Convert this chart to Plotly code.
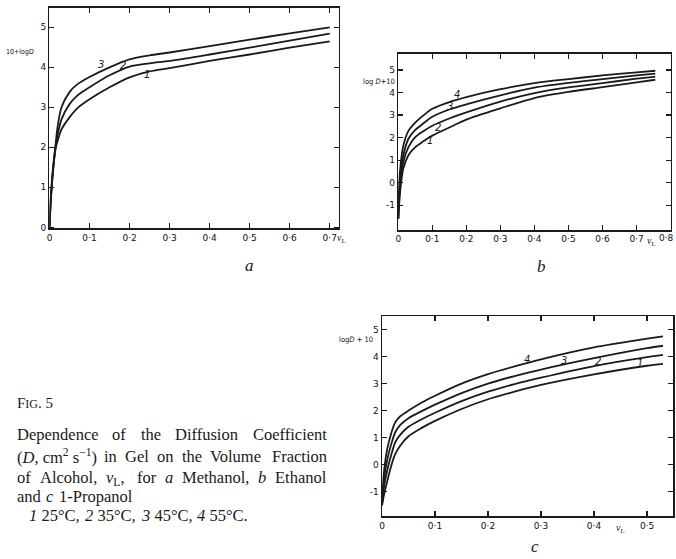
import plotly.graph_objects as go

W, H = 676, 559

# ---------------- data ----------------
# panel a (Methanol): curves 1,2,3
xa = [0, 0.003, 0.008, 0.015, 0.02, 0.03, 0.05, 0.07, 0.1, 0.15, 0.2, 0.25, 0.3, 0.4, 0.5, 0.6, 0.7]
a3 = [0, 0.7, 1.4, 2.05, 2.5, 3.0, 3.38, 3.58, 3.76, 4.0, 4.2, 4.3, 4.37, 4.53, 4.69, 4.85, 5.0]
a2 = [0, 0.65, 1.35, 2.0, 2.3, 2.7, 3.08, 3.3, 3.5, 3.8, 4.02, 4.1, 4.16, 4.32, 4.49, 4.67, 4.84]
a1 = [0, 0.6, 1.3, 1.95, 2.15, 2.45, 2.75, 2.98, 3.2, 3.5, 3.75, 3.9, 3.98, 4.16, 4.32, 4.49, 4.65]

# panel b (Ethanol): curves 1..4
xb = [0, 0.003, 0.007, 0.015, 0.03, 0.05, 0.075, 0.1, 0.15, 0.2, 0.3, 0.4, 0.5, 0.6, 0.7, 0.755]
b4 = [-1.6, 0.0, 0.8, 1.65, 2.3, 2.67, 3.0, 3.28, 3.58, 3.8, 4.15, 4.42, 4.6, 4.76, 4.9, 4.97]
b3 = [-1.6, -0.3, 0.45, 1.22, 1.95, 2.34, 2.65, 2.93, 3.25, 3.48, 3.88, 4.22, 4.43, 4.6, 4.76, 4.84]
b2 = [-1.6, -0.6, 0.1, 0.93, 1.58, 2.02, 2.3, 2.53, 2.85, 3.12, 3.6, 3.98, 4.23, 4.42, 4.62, 4.71]
b1 = [-1.6, -0.9, -0.2, 0.64, 1.22, 1.58, 1.85, 2.09, 2.45, 2.8, 3.3, 3.76, 4.03, 4.24, 4.45, 4.57]

# panel c (1-Propanol): curves 1..4
xc = [0, 0.004, 0.01, 0.018, 0.025, 0.035, 0.05, 0.075, 0.1, 0.15, 0.2, 0.25, 0.3, 0.4, 0.5, 0.53]
c4 = [-1.5, -0.2, 0.6, 1.2, 1.57, 1.8, 2.0, 2.3, 2.55, 3.0, 3.35, 3.64, 3.9, 4.34, 4.66, 4.75]
c3 = [-1.5, -0.5, 0.2, 0.8, 1.2, 1.48, 1.72, 1.98, 2.22, 2.65, 3.0, 3.28, 3.52, 3.94, 4.31, 4.4]
c2 = [-1.5, -0.8, -0.2, 0.4, 0.83, 1.12, 1.4, 1.68, 1.92, 2.35, 2.7, 2.98, 3.22, 3.65, 3.98, 4.06]
c1 = [-1.5, -1.1, -0.6, 0.0, 0.4, 0.72, 1.05, 1.36, 1.62, 2.06, 2.42, 2.7, 2.95, 3.34, 3.66, 3.73]

xt_a = [0, 0.1, 0.2, 0.3, 0.4, 0.5, 0.6, 0.7]
xt_a_lbl = ["0", "0·1", "0·2", "0·3", "0·4", "0·5", "0·6", "0·7"]
xt_b = [0, 0.1, 0.2, 0.3, 0.4, 0.5, 0.6, 0.7, 0.8]
xt_b_lbl = ["0", "0·1", "0·2", "0·3", "0·4", "0·5", "0·6", "0·7", ""]
xt_b_last = "0·8"
xt_c = [0, 0.1, 0.2, 0.3, 0.4, 0.5]
xt_c_lbl = ["0", "0·1", "0·2", "0·3", "0·4", "0·5"]
yt_a = [0, 1, 2, 3, 4, 5]
yt_bc = [-1, 0, 1, 2, 3, 4, 5]

# curve-number labels (number, x, y) in data units (label centres)
lab_a = [("3", 0.129, 4.07), ("2", 0.183, 4.05), ("1", 0.244, 3.82)]
lab_b = [("4", 0.172, 3.92), ("3", 0.153, 3.40), ("2", 0.116, 2.45), ("1", 0.094, 1.86)]
lab_c = [("4", 0.274, 3.89), ("3", 0.343, 3.87), ("2", 0.407, 3.83), ("1", 0.487, 3.74)]

# ---------------- figure ----------------
def px(x):
    return x / W

def py(y):
    return 1 - y / H

LINE = dict(color="#1a1a1a", width=1.8, shape="spline", smoothing=0.8)
fig = go.Figure()

for xs, ys_list, ax in [(xa, [a1, a2, a3], ("x", "y")),
                        (xb, [b1, b2, b3, b4], ("x2", "y2")),
                        (xc, [c1, c2, c3, c4], ("x3", "y3"))]:
    for ys in ys_list:
        fig.add_trace(go.Scatter(x=xs, y=ys, mode="lines", line=LINE,
                                 xaxis=ax[0], yaxis=ax[1], showlegend=False,
                                 hoverinfo="skip", cliponaxis=False))

TICKF = dict(family="DejaVu Sans", size=9, color="#111111")
common = dict(showline=True, linecolor="#1a1a1a", linewidth=1.5, mirror="ticks",
              ticks="inside", ticklen=5, tickwidth=1.3, tickcolor="#1a1a1a",
              showgrid=False, zeroline=False, tickfont=TICKF, fixedrange=True)

fig.update_layout(
    width=W, height=H, margin=dict(l=0, r=0, t=0, b=0),
    paper_bgcolor="white", plot_bgcolor="white", showlegend=False,
    xaxis=dict(domain=[px(46.7), px(337)], range=[0, 0.722], anchor="y",
               tickvals=xt_a, ticktext=xt_a_lbl, **common),
    yaxis=dict(domain=[py(230), py(8)], range=[-0.025, 5.484], anchor="x",
               tickvals=yt_a, ticktext=[str(v) for v in yt_a], **common),
    xaxis2=dict(domain=[px(397), px(670.6)], range=[0, 0.8], anchor="y2",
                tickvals=xt_b, ticktext=xt_b_lbl, **common),
    yaxis2=dict(domain=[py(231.7), py(54)], range=[-2.1, 5.73], anchor="x2",
                tickvals=yt_bc, ticktext=[str(v) for v in yt_bc], **common),
    xaxis3=dict(domain=[px(380.7), px(673)], range=[0, 0.549], anchor="y3",
                tickvals=xt_c, ticktext=xt_c_lbl, **common),
    yaxis3=dict(domain=[py(520), py(318.3)], range=[-1.91, 5.5], anchor="x3",
                tickvals=yt_bc, ticktext=[str(v) for v in yt_bc], **common),
)

ann = []
NUMF = dict(family="DejaVu Sans", size=10, color="#1a1a1a")
for labs, xr, yr in [(lab_a, "x", "y"), (lab_b, "x2", "y2"), (lab_c, "x3", "y3")]:
    for t, x, y in labs:
        ann.append(dict(text="<i>" + t + "</i>", x=x, y=y, xref=xr, yref=yr,
                        showarrow=False, font=NUMF, xanchor="center", yanchor="middle"))

# last tick label of panel b, kept inside the page
ann.append(dict(text=xt_b_last, x=px(675), y=py(240), xref="paper", yref="paper",
                showarrow=False, font=TICKF, xanchor="right", yanchor="middle", borderpad=0))

SMALL = dict(family="DejaVu Sans Condensed, DejaVu Sans", size=7.5, color="#111111")
VL = dict(family="Liberation Serif", size=10, color="#1a1a1a")
# axis titles
ann += [
    dict(text="10+logD", x=px(33), y=py(52), xref="paper", yref="paper", showarrow=False,
         font=dict(SMALL, size=7), xanchor="right", yanchor="middle"),
    dict(text="log <i>D</i>+10", x=px(396), y=py(82), xref="paper", yref="paper", showarrow=False,
         font=SMALL, xanchor="right", yanchor="middle"),
    dict(text="log<i>D</i> + 10", x=px(374), y=py(342), xref="paper", yref="paper", showarrow=False,
         font=SMALL, xanchor="right", yanchor="middle"),
    dict(text="<i>v</i><sub>L</sub>", x=px(340), y=py(240), xref="paper", yref="paper", showarrow=False,
         font=VL, xanchor="center", yanchor="middle"),
    dict(text="<i>v</i><sub>L</sub>", x=px(651), y=py(243), xref="paper", yref="paper", showarrow=False,
         font=VL, xanchor="center", yanchor="middle"),
    dict(text="<i>v</i><sub>L</sub>", x=px(620), y=py(532), xref="paper", yref="paper", showarrow=False,
         font=VL, xanchor="center", yanchor="middle"),
]

# panel letters
for t, x, y in [("a", 248, 267), ("b", 541, 268), ("c", 534, 550)]:
    ann.append(dict(text="<i>" + t + "</i>", x=px(x), y=py(y), xref="paper", yref="paper",
                    showarrow=False, font=dict(family="Liberation Serif", size=17, color="#1a1a1a"),
                    xanchor="center", yanchor="middle"))

# caption
ann.append(dict(text="F<span style='font-size:12px'>IG</span>. 5", x=px(12), y=py(406),
                xref="paper", yref="paper", showarrow=False,
                font=dict(family="Liberation Serif", size=15, color="#1a1a1a"),
                xanchor="left", yanchor="middle"))

CAP_SIZE = 16.5
SERIF = dict(family="Liberation Serif", size=CAP_SIZE, color="#1a1a1a")
# Times-metric advance widths (1/1000 em) for justification of caption lines
TW = {' ': 250, 'a': 444, 'b': 500, 'c': 444, 'd': 500, 'e': 444, 'f': 333, 'g': 500, 'h': 500,
      'i': 278, 'l': 278, 'm': 778, 'n': 500, 'o': 500, 'p': 500, 'r': 333, 's': 389, 't': 278,
      'u': 500, 'v': 444, 'A': 722, 'C': 667, 'D': 722, 'E': 611, 'F': 556, 'G': 722, 'L': 611,
      'M': 889, 'P': 556, 'V': 722, '(': 333, ')': 333, ',': 250, '.': 250, '-': 333, '°': 400,
      '^': 350}

def tw(s):
    return sum(TW.get(ch, 500) for ch in s) * CAP_SIZE / 1000.0

# (y centre px, x start px, x end px or None, [(html, measure text)])
caption_lines = [
    (438, 12.7, 324, [("Dependence", "Dependence"), ("of", "of"), ("the", "the"),
                      ("Diffusion", "Diffusion"), ("Coefficient", "Coefficient")]),
    (460, 12.7, 324, [("(<i>D</i>, cm<sup>2</sup> s<sup>−1</sup>)", "(D, cm^ s^^)"), ("in", "in"),
                      ("Gel", "Gel"), ("on", "on"), ("the", "the"), ("Volume", "Volume"),
                      ("Fraction", "Fraction")]),
    (481, 12.7, 324, [("of", "of"), ("Alcohol,", "Alcohol,"), ("<i>v</i><sub>L</sub>,", "vL,"),
                      ("for", "for"), ("<i>a</i>", "a"), ("Methanol,", "Methanol,"), ("<i>b</i>", "b"),
                      ("Ethanol", "Ethanol")]),
    (500, 12.7, None, [("and", "and"), ("<i>c</i>", "c"), ("1-Propanol", "1-Propanol")]),
    (519, 25, None, [("<i>1</i> 25°C,", "1 25°C,"), ("<i>2</i> 35°C,", "2 35°C,"),
                     ("<i>3</i> 45°C,", "3 45°C,"), ("<i>4</i> 55°C.", "4 55°C.")]),
]
for yy, x0, x1, words in caption_lines:
    widths = [tw(m) for _, m in words]
    if x1 is None:
        gap = tw(" ") * 1.4
    else:
        gap = (x1 - x0 - sum(widths)) / (len(words) - 1)
    xx = x0
    for (w, _), wd in zip(words, widths):
        ann.append(dict(text=w, x=px(xx), y=py(yy), xref="paper", yref="paper",
                        showarrow=False, font=SERIF, xanchor="left", yanchor="middle",
                        borderpad=0))
        xx += wd + gap

fig.update_layout(annotations=ann)
fig.write_html("out.html", config={"displayModeBar": False, "staticPlot": True},
               post_script="document.body.style.margin='0';document.body.style.overflow='hidden';")
